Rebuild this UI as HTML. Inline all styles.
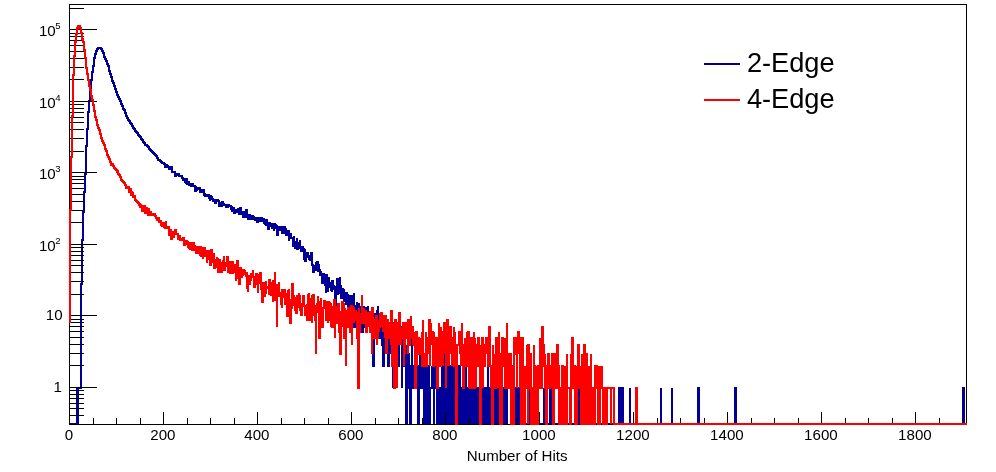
<!DOCTYPE html>
<html><head><meta charset="utf-8"><title>Number of Hits</title>
<style>
html,body{margin:0;padding:0;background:#fff;}
body{width:996px;height:472px;overflow:hidden;}
svg{display:block;}
text{font-family:"Liberation Sans",Arial,Helvetica,sans-serif;fill:#000;}
</style></head><body>
<svg width="996" height="472" viewBox="0 0 996 472">
<rect width="996" height="472" fill="#fff"/>
<g shape-rendering="crispEdges">
<path d="M70 424H77V388H78V424V388H81V298V284H82V252V240H83V226V212H84V202V192H85V184V174H86V162V156V146H87V139V129H88V119V112H89V107V101H90V96V91H91V85V80H92V75V72H93V68V66H94V63V60V58H95V56V54H96V53V51H97V50V49H98V48H101V49H102V50V51H103V52V53H104V55V57H105V58V59H106V60V61H107V62V64H108V65V66H109V68V69V71H110V73V74H111V76V77H112V79V81H113V82V83H114V85V86H115V88V89H116V91V92H117V94V95H118V96V97H119V98V99H120V100V101H121V103V104H122V105V106H123V108V109H124V110H125V112V113H126V115V116H127V118H128V120H129V121H130V122V123H131V124H132V125V126H133V127V128H134V129H135V131H136V132H137V133H138V134V135H139V136H140V137H141V138V139H142V140H143V142H144V143H145V145H146V144V145H147V146H148V148V146V147H149V149H150V150H151V151H152V152H153V153H154V154H155V155H156V156V157V156H157V159V158H158V159V160H160V161H161V162H162V161V163H164V165V163V164H165V166V167H166V165H167V166H168V167H169V169H170V168V169H171V170V167H172V170V172H173V171V172H174V171V172H175V176H176V174H177V175H178V174H179V175V176H180V175V176H181V177V176H182V179V178H183V179V180H184V179V180H185V178V182H186V183H187V178V184H188V182H189V181V185H190V183V185H191V186H192V185V184H193V187V186H195V187V188V191H196V186V190H197V189H198V188H199V189V188H200V189V192H201V191V192H202V191V190H203V193V191V190H204V193V195H205V193V196H207V194V196H208V195H209V196V198H210V201V197H211V199V195V198H212V196V199H213V201H214V199V200H215V202V203H216V201V200H217V202V200H218V199V201H219V204V201V206H220V204V203H221V205V206H222V202H223V206V205H224V203V205H225V204V205H226V206V207H227V206V204V207H228V206V205H229V207V206H230V207V206H231V210V209H232V206V211H233V210H234V207V213H235V212V213V212H236V211V210H237V213V212H238V211V209H239V213V214H240V209V208H241V211V213H242V214V215V212H243V211V217H244V215V217H245V216V212H246V214V210H247V215V217H248V215V219H249V217V215H250V218V215V218H251V220V217H252V220V216H253V218V217H254V220V218H255V220H256V218H257V223V219H258V220V223V219H259V217V221H260V218H261V217V218H262V220V221H263V219H264V223H265V222V224H266V226V220H267V223H268V226V229H269V222V223H270V226H272V223V228H273V225H274V226V231V224H275V227V228H276V224V226H277V225V235H278V227H279V229H280V231V228H281V231V227H282V228V227V233H283V228V233H284V226V227H285V233V229H286V235H287V233V235H288V231H289V235V241V234H290V238H291V233V238H292V239V238H293V247V244H294V236V244H295V247V248H296V243V242H297V239V238V249H298V247V243H299V248V247H300V240V248H301V249V251H302V246V247H303V249H304V260V250H305V253V261H306V253V255H307V253H308V258V256H309V260V257H310V261V260H311V254V253H312V254V265H313V266V268V272H314V270V266H315V267V270H316V263H317V264V262H318V272V265H319V272V270H320V276V272H321V274V275V274H322V283H323V281V276H324V273V275H325V284V285H326V293V278H327V274V290H328V292V278H329V280V287H330V283V285H331V282V290H332V292V281H333V283V289H334V285V287H335V298V313H336V300V295V290H337V295V279H338V295V281H339V293H340V277V290H341V285V298H342V289H343V296V290H344V295V302V293H345V302V293H346V298V304H347V292V295H348V298V311H349V302V316H350V295V306H351V296H352V313V304V320H353V304V316H354V293V327H355V308V306H356V311V327H357V302V311H358V306V304H359V306V320H360V306V320H361V306V313H362V316V332H363V306V320H364V306V327H365V313H366V320V308H367V327V323H368V306V311V316H369V327V313H370V316V327H372V320V323H373V316V366H374V320V332H375V313V338H376V323V316V320H377V311H378V306V338H379V332V316H380V338V323H381V327V338H382V313V345H383V323V327V366H384V338V345H385V320V327H386V323H387V345V323H388V366H389V338H390V332H391V354V323V332H392V345V332H393V388V323H394V366V388H395V332V338H396V366H397V354V338H398V354V366H399V332V354V332H400V327H401V345V338H402V388V327H403V332V366H404V354V366H405V354H406V424H407V388V345V388H408V354H409V366H410V424H411V366V388H412V338V388H413V366V388H414V366H415V388H416V354V388H417V366H418V424H419V388H420V354V388H422V338V388H423V366V388H424V424H425V366H426V424H427V354V388H428V424V366H429V424H430V388H432V366V388H433V338H434V424V388H436V354H437V424H438V354V388H439V424H440V388H441V424H442V366V345H443V424H444V354V388H445V424H446V388H447V424H448V345V388H449V424H450V366H451V424H452V388V354H453V424H454V388V366H455V388H456V366H457V388V366H458V388V366H459V424H460V366V388H461V424H462V388H463V424H464V366V388H465V424H466V366V388H467V424H468V388H469V424H470V388H471V424H472V366V388H473V424H474V366V388H475V424H476V388H477V424H478V388H482V366V388H483V424H484V388H485V424H486V388H487V424H488V366V388H489V424H490V388H493V366V354V388H495V424H496V388H497V424H498V388V354H499V388H504V424H505V388H506V424H507V388V354H508V388H511V366H512V388H516V424H517V388V424H518V388H519V424H530V388V424H544V388V424H550V388H551V424H579V388V424H619V388H620V424V388H621V424V388H622V424V388H623V424H630V388V424H661V388V424H672V388V424H698V388H699V424H735V388H736V424H963V388H964V424H967" fill="none" stroke="#000099" stroke-width="2" stroke-linejoin="miter"/>
<rect x="69.5" y="4.5" width="897" height="420" fill="none" stroke="#000" stroke-width="1"/><path d="M69 415.5h15M69 408.5h15M69 403.5h15M69 398.5h15M69 394.5h15M69 390.5h15M69 387.5h28M69 365.5h15M69 353.5h15M69 344.5h15M69 337.5h15M69 331.5h15M69 326.5h15M69 322.5h15M69 319.5h15M69 315.5h28M69 294.5h15M69 281.5h15M69 272.5h15M69 265.5h15M69 260.5h15M69 255.5h15M69 251.5h15M69 247.5h15M69 244.5h28M69 222.5h15M69 210.5h15M69 201.5h15M69 194.5h15M69 188.5h15M69 183.5h15M69 179.5h15M69 176.5h15M69 172.5h28M69 151.5h15M69 138.5h15M69 129.5h15M69 122.5h15M69 117.5h15M69 112.5h15M69 108.5h15M69 104.5h15M69 101.5h28M69 79.5h15M69 67.5h15M69 58.5h15M69 51.5h15M69 45.5h15M69 40.5h15M69 36.5h15M69 33.5h15M69 29.5h28M69 8.5h15M69.5 425v-13M93.5 425v-7M116.5 425v-7M140.5 425v-7M163.5 425v-13M187.5 425v-7M210.5 425v-7M234.5 425v-7M257.5 425v-13M281.5 425v-7M304.5 425v-7M328.5 425v-7M351.5 425v-13M375.5 425v-7M398.5 425v-7M422.5 425v-7M445.5 425v-13M469.5 425v-7M492.5 425v-7M516.5 425v-7M539.5 425v-13M563.5 425v-7M586.5 425v-7M610.5 425v-7M633.5 425v-13M657.5 425v-7M680.5 425v-7M704.5 425v-7M727.5 425v-13M751.5 425v-7M774.5 425v-7M798.5 425v-7M821.5 425v-13M845.5 425v-7M868.5 425v-7M892.5 425v-7M915.5 425v-13M939.5 425v-7M962.5 425v-7" fill="none" stroke="#000" stroke-width="1"/>
<path d="M70 323V210H71V182V157H72V136V116H73V95V75H74V64V56H75V49V42H76V38V34H77V30V28H78V27V26H80V27V28H81V30V33H82V36V39H83V41V42H84V45V50H85V54V58H86V61V65V68H87V72V74H88V77V80H89V83V86H90V89V90H91V93V96H92V98V100H93V102V105H94V107V109V111H95V114V117H96V118V120H97V122V125H98V126V128H99V129V130H100V133V134H101V136V138H102V139V141H103V142V143H104V145H105V148V149H106V151H107V153V155H108V157H109V158V160V159H110V161V162H111V165H112V166V164H113V166H114V168H115V169H116V168V170H117V171V173V171H118V174H119V175H120V178V177H121V178V180H122V179V181H123V182H124V183H125V185H126V188H128V187H129V191V192H130V189H131V195H132V191V193H133V196V197H134V196H135V198V200H136V201H137V202H138V203H139V204V205H140V203V207H141V205V204V206H142V208V211H143V206H145V213H146V210V208H147V209V211H148V213V214V215H149V208V212H150V214V215H151V211V214H152V213V215H154V214H155V213V216H156V218V216V218H157V220H158V218H159V221V222H160V223V221H161V222V225H162V224V226H163V223H164V226V227H165V229V226H166V221V228H168V226V227H169V231V235H170V233V230H171V232V239H172V232V233H173V231V237H174V235V233H175V235V230H176V235V234H178V238V239H179V236H180V238V240H181V239V240H182V239H183V241V238H184V240V245H185V241V243H186V241H187V245V242H188V248V247V243H189V249V243H190V246V249H191V248H192V242V250H193V247V243H194V251V246H195V248V247H196V254V248H197V247H198V253H199V249V251H200V256V247H201V257V255H202V253V254H203V259V247V250H204V252V248H205V257V253H206V256V254H207V263V251H208V258V251H209V260V257H210V253V265H211V257V260V250H212V263V260H213V255H214V253V268H215V259V264H216V261V267H217V257V259H218V270V272H219V259V266V260H220V265V263H221V265V272H222V265V270H223V260V263H224V256V270H225V262V266H227V258V263V257H228V268V272H229V264V262H230V273H231V272V271H232V270V262H233V274V265H234V266V267H235V272V264V272H236V281V268H237V275V261H238V270V278H239V284H240V277V268H241V276V277H242V271V278V272H243V276V270H244V274V271H245V272V274H246V276H247V272V288H248V292V276H249V280V284H250V276V277V280H251V279V274H252V276H253V270V277H254V287H255V288V279H256V281V274H257V283V284H258V293V285V278H259V284V275H260V284V273H261V290V284H262V295V302H263V283H264V289V296H265V295V293H266V281V282V287H267V289V288H268V287H269V295V280H270V282V287H271V290V295H272V283H273V302V281H274V290V295V293H275V272V300H276V298V295H277V327V285H278V290V296H279V282V296H280V292V295H281V298V304H282V300V308V290H283V292H284V298V290H285V293V304H286V293V302H287V295V316H288V290V295H289V289V300H290V302V323H291V304V308H292V306V284H293V306V296H294V300V298H295V311V302H296V304V313H297V295V308V304H298V308V306H299V293V296H300V311V306H301V316V313H302V316V304H303V296H304V295V306H305V316V311V308H307V304V320H308V313V295H309V293V304H310V306V320H311V298V304H312V323V296H313V300V308V295H314V316V311H315V308V320H316V354V306H317V313V304H318V296V302H319V316V338H320V313V304H321V308V298V320H322V308V327H323V316V308H324V300V308H325V300V302H326V311V320H327V308H328V323V302H329V313V311V320H330V302V304H331V327V313H332V311V327H333V306V323H334V313V300H335V338V320H336V308V306V316H337V306V323H338V320V304H339V313V332H340V345V354H341V311V316H342V327V302H343V306V304H344V327V338H345V308V311H346V366V327H348V311V308H349V323V308H350V320V332H351V316V306H352V345V323V311H353V306V308H354V323V320H355V316V311H356V313H357V338H358V313V388H359V308V332H360V320V313V323H361V320H362V295V311H363V316V323H364V308V323H365V320V311H366V313V332H367V327V313H368V327V320H369V323V320H370V311V332H371V316V313H372V354V308H373V311V332H374V320V338H375V320H376V338V316H377V345V338H378V320V327H379V332V327H380V313V316H381V320V313H382V327V316H383V332V323V327H385V338V316H386V354V338H387V354V320H388V323H389V338H390V332V338H391V332V345V311H392V332V366H393V345V332H394V323V388H395V332V320H396V332V327H397V388V323H398V338V323H399V345V313H400V320V332H401V345V338H402V327V338H403V323H404V366V327H405V354V323H406V338H407V327V332H408V354V320H409V338V345H410V338H411V316V332H412V327H413V345V338H414V345H415V332V338V388H416V332H417V366V345H418V338H419V345V354H420V338V354H422V332V366H423V354V320V354H425V366H426V332V366H427V354V345H428V338H429V354V320H430V366V345V338H431V323V338H432V345V332H433V354V366H434V332V345H435V366V345H436V338H437V354V388H438V354V338H439V323V345H440V332V366H441V327V332H442V366V345H443V366V332H444V354V323H445V354V345H446V332V388V354H447V366V320H448V345H449V366V332H450V345V327H451V354V345H452V366V338H453V354V338H454V354V327V366H455V332V366H456V424H457V366V345H459V332H460V354V332H461V366V354H462V323V345H463V388H464V354H465V338V354H466V345V366H467V332V366H468V354V332H469V388V345H470V366V388H471V338H472V388H473V354H474V332V388H475V338V354H476V388V345H477V366H478V345V338H479V354V366H480V424H481V345V366H482V345V338H483V388V345H484V354V366H485V345H486V354V338H487V354V345H488V354V366H489V345V327H490V354V366H491V388V366H492V424H493V366V345V388H495V354V388H496V345V338H497V354H498V388V366H499V332V354H500V424H501V366V388V424H502V354V338H503V354H504V366H505V338V388H506V354H507V323V366H508V354V388H509V366V354H510V388V354H511V424H512V366V388H513V424H514V345V338H515V354H516V345V338H517V388V345V338H518V354V332H519V354V338H520V388V345H521V424H522V388V338H523V424H524V388V424H525V366V388H527V345V366H528V424V345H529V354V388H530V354H531V424H532V388H533V424H534V345V366H535V424H536V366V388H537V424H538V388V366H539V388H540V354V338V354H541V388H542V354V327H543V332V345H544V366H545V354V388H546V424H547V388V366H548V388V354H549V388H550V366H551V388V366H552V354H553V424H554V388H555V354H556V366V354V388H557V345H558V388V366H559V424H560V388H561V424H562V388V366H563V424H564V388V424H565V366V388H566V424H567V354V388H570V424H571V388V354V388H572V338H573V388H574V366H575V424H576V366V424H577V388H578V354V345H579V388H580V366V388H581V424H582V354V388H583V424H584V366V345H585V424H586V388V354H587V424H588V388V424H589V366V388H590V424H591V354V388H592V424H593V388H594V424H595V366V388V366H596V388V366H597V388H598V424H599V366V424H600V366V388H602V366V388H603V424H604V388H605V424V388H606V424H607V388H611V424V388H614V424H636V388H637V424H967" fill="none" stroke="#ff0000" stroke-width="2" stroke-linejoin="miter"/>
<path d="M704 64H740" stroke="#000099" stroke-width="2"/>
<path d="M704 100H740" stroke="#ff0000" stroke-width="2"/>
</g>
<g font-size="15.1">
<text x="68.9" y="439.7" text-anchor="middle">0</text><text x="162.9" y="439.7" text-anchor="middle">200</text><text x="256.9" y="439.7" text-anchor="middle">400</text><text x="350.9" y="439.7" text-anchor="middle">600</text><text x="444.9" y="439.7" text-anchor="middle">800</text><text x="538.9" y="439.7" text-anchor="middle">1000</text><text x="632.9" y="439.7" text-anchor="middle">1200</text><text x="726.9" y="439.7" text-anchor="middle">1400</text><text x="820.9" y="439.7" text-anchor="middle">1600</text><text x="914.9" y="439.7" text-anchor="middle">1800</text><text x="517.2" y="460.6" text-anchor="middle">Number of Hits</text><text x="61.9" y="391.7" text-anchor="end">1</text><text x="62.6" y="319.9" text-anchor="end">10</text><text x="55.7" y="250.9" text-anchor="end">10</text><text x="55.3" y="244.0" font-size="9.6">2</text><text x="55.7" y="178.9" text-anchor="end">10</text><text x="55.3" y="172.0" font-size="9.6">3</text><text x="55.7" y="107.9" text-anchor="end">10</text><text x="55.3" y="101.0" font-size="9.6">4</text><text x="55.7" y="35.9" text-anchor="end">10</text><text x="55.3" y="29.0" font-size="9.6">5</text>
</g>
<g font-size="27.2">
<text x="746.9" y="71.8">2-Edge</text>
<text x="746.9" y="107.8">4-Edge</text>
</g>
</svg>
</body></html>
